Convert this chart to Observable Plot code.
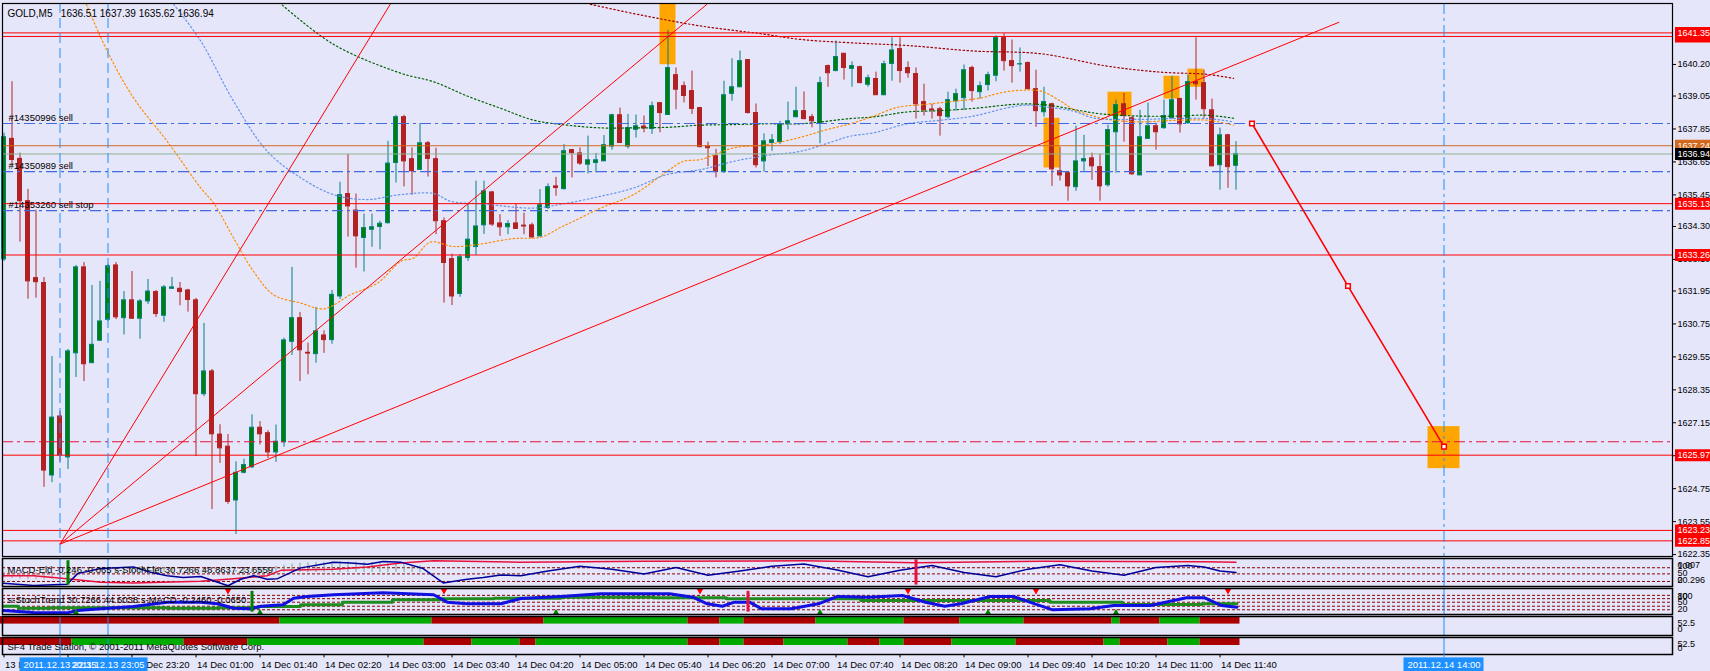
<!DOCTYPE html>
<html><head><meta charset="utf-8">
<script src="https://cdn.jsdelivr.net/npm/d3@7"></script>
<script src="https://cdn.jsdelivr.net/npm/@observablehq/plot@0.6"></script>
<style>
html,body{margin:0;padding:0;background:#E6E6FA;}
#chart{width:1710px;height:671px;display:flex;flex-direction:column;overflow:hidden;background:#E6E6FA;}
#chart svg{display:block;flex:none;}
</style></head><body><div id="chart"></div>
<script>
// ---------- DATA ----------
const symbolName = "GOLD,M5";
const open = [
1633.10,1637.49,1636.76,1635.22,1632.42,1632.24,1625.23,1627.38,1625.89,1629.68,
1632.81,1629.32,1630.14,1630.90,1632.88,1630.96,1631.61,1630.94,1631.57,1631.91,
1631.05,1632.03,1632.03,1631.97,1631.61,1628.19,1629.02,1626.72,1626.28,1624.32,
1625.33,1625.53,1626.97,1626.77,1626.07,1626.44,1630.10,1630.96,1629.70,1629.65,
1630.33,1630.16,1631.75,1635.48,1634.88,1633.88,1634.18,1634.28,1634.42,1636.61,
1638.28,1636.75,1636.36,1637.33,1636.75,1634.49,1633.11,1631.84,1633.15,1633.55,
1634.34,1635.54,1634.41,1634.27,1634.41,1634.33,1634.34,1633.94,1634.97,1635.76,
1635.66,1637.08,1636.96,1636.55,1636.61,1636.67,1637.21,1638.35,1637.21,1637.82,
1637.94,1637.85,1638.79,1638.36,1639.81,1639.41,1639.23,1638.61,1637.21,1636.86,
1636.28,1639.13,1639.37,1640.36,1638.43,1636.67,1637.34,1637.37,1638.04,1638.28,
1638.50,1638.28,1638.05,1640.14,1639.96,1640.59,1640.04,1640.10,1639.46,1639.67,
1639.08,1640.22,1640.76,1640.07,1639.85,1638.83,1638.56,1638.57,1638.28,1638.86,
1638.97,1640.07,1639.19,1639.45,1639.79,1641.16,1640.32,1640.20,1640.25,1639.30,
1638.46,1638.75,1636.31,1636.24,1635.73,1636.67,1636.78,1636.46,1635.80,1637.73,
1638.75,1638.24,1636.16,1637.49,1637.95,1637.88,1638.24,1638.94,1638.06,1639.56,
1639.52,1638.53,1636.53,1637.62,1636.51];
const high = [
1637.70,1639.57,1636.97,1635.65,1634.89,1632.44,1629.56,1627.56,1629.82,1632.88,
1632.99,1632.15,1632.30,1632.92,1632.99,1631.93,1632.66,1631.64,1632.37,1631.97,
1632.15,1632.44,1632.26,1632.01,1631.68,1630.77,1629.09,1627.08,1626.72,1625.73,
1625.83,1627.44,1627.19,1626.86,1627.07,1630.23,1632.81,1631.17,1630.05,1631.35,
1630.50,1631.97,1635.91,1636.92,1635.48,1634.75,1634.75,1634.49,1637.40,1638.35,
1638.35,1637.16,1638.04,1637.40,1637.15,1634.61,1633.29,1633.28,1635.10,1635.95,
1635.95,1635.58,1634.73,1634.51,1635.10,1634.78,1634.42,1635.64,1635.85,1636.09,
1637.28,1637.11,1637.16,1637.59,1636.96,1637.61,1638.39,1638.61,1638.38,1638.36,
1638.32,1638.83,1638.80,1641.44,1640.07,1639.56,1639.96,1638.64,1637.37,1637.11,
1639.59,1640.41,1640.69,1640.38,1638.76,1637.67,1637.65,1638.13,1638.83,1639.37,
1639.20,1638.38,1639.74,1640.18,1641.05,1640.60,1640.29,1640.14,1639.81,1639.92,
1640.32,1641.17,1641.17,1640.29,1640.07,1639.48,1638.75,1638.64,1639.19,1639.30,
1640.18,1640.14,1639.56,1639.92,1641.24,1641.32,1641.09,1640.80,1640.29,1639.99,
1639.37,1638.79,1637.19,1636.31,1637.95,1637.62,1636.97,1636.93,1637.99,1638.90,
1639.15,1638.32,1638.53,1638.79,1638.06,1638.90,1639.77,1638.97,1639.81,1641.17,
1639.99,1638.94,1637.88,1637.66,1637.39];
const low = [
1633.03,1636.49,1633.73,1631.65,1631.69,1624.80,1624.97,1625.73,1625.45,1628.80,
1628.65,1629.31,1630.11,1630.84,1630.91,1630.35,1630.91,1630.19,1631.46,1630.99,
1630.81,1632.01,1631.41,1631.18,1625.92,1628.10,1623.99,1625.67,1624.18,1623.08,
1625.29,1625.48,1626.34,1625.85,1625.71,1626.26,1629.60,1628.65,1628.90,1629.32,
1629.68,1630.01,1631.64,1633.91,1632.78,1632.64,1633.54,1633.45,1634.38,1635.88,
1635.74,1635.44,1636.35,1636.10,1634.00,1631.51,1631.42,1631.72,1633.03,1633.25,
1634.01,1634.30,1633.94,1634.00,1634.19,1634.00,1633.87,1633.90,1634.92,1635.40,
1635.62,1636.07,1636.52,1636.21,1636.25,1636.67,1637.08,1637.33,1637.12,1637.52,
1637.71,1637.65,1637.71,1638.35,1638.55,1638.80,1638.38,1637.16,1636.48,1636.07,
1636.23,1638.86,1639.35,1638.40,1636.43,1636.28,1637.04,1637.28,1637.81,1638.25,
1638.18,1637.89,1637.31,1639.37,1639.93,1639.63,1639.37,1639.50,1639.37,1639.08,
1639.06,1639.59,1639.52,1639.70,1638.21,1638.32,1638.21,1637.59,1638.21,1638.50,
1638.53,1638.83,1638.94,1639.23,1639.57,1639.96,1639.52,1639.92,1639.27,1637.91,
1638.28,1635.76,1635.95,1635.22,1635.58,1636.31,1635.98,1635.22,1635.73,1636.24,
1637.37,1636.16,1636.15,1637.48,1637.08,1637.84,1638.21,1637.70,1638.02,1638.90,
1638.24,1636.47,1635.62,1635.69,1635.62];
const close = [
1637.55,1636.72,1635.22,1632.30,1632.27,1625.41,1627.34,1625.96,1629.75,1632.81,
1629.28,1629.99,1630.84,1632.85,1630.99,1631.61,1630.94,1631.57,1631.93,1631.11,
1632.08,1632.08,1631.91,1631.62,1628.19,1629.02,1626.73,1626.22,1624.27,1625.33,
1625.61,1626.97,1626.73,1626.07,1626.46,1630.15,1630.96,1629.79,1629.67,1630.48,
1630.16,1631.81,1635.44,1635.03,1633.94,1634.24,1634.27,1634.40,1636.59,1638.28,
1636.67,1636.31,1637.33,1636.76,1634.49,1632.97,1631.75,1633.18,1633.82,1634.30,
1635.58,1634.37,1634.27,1634.39,1634.21,1634.30,1633.90,1635.07,1635.73,1635.70,
1637.04,1636.97,1636.59,1636.71,1636.71,1637.26,1638.35,1637.34,1637.88,1637.95,
1637.87,1638.68,1638.43,1640.07,1639.28,1639.05,1638.58,1637.19,1637.15,1636.28,
1639.08,1639.37,1640.32,1638.43,1636.53,1637.40,1637.44,1638.00,1638.13,1638.50,
1638.21,1638.13,1639.52,1639.88,1640.47,1640.07,1640.14,1639.52,1639.70,1639.08,
1640.21,1640.71,1639.96,1639.88,1638.75,1638.53,1638.53,1638.32,1638.90,1639.12,
1639.99,1639.23,1639.41,1639.81,1641.16,1640.32,1640.14,1640.21,1639.30,1638.50,
1638.83,1636.38,1636.16,1635.76,1636.67,1636.75,1636.49,1635.76,1637.81,1638.72,
1638.32,1636.20,1637.55,1637.95,1637.73,1638.32,1638.90,1638.02,1639.56,1639.48,
1638.57,1636.49,1637.62,1636.46,1636.94];

// moving averages (bar index, price)
const maRedBar = [73.3,79.6,87.1,94.6,99.6,105.8,112.9,121.2,129.6,137.9,144.6,150.4,153.7];
const maRedVal = [1642.39,1642.00,1641.60,1641.32,1641.11,1640.99,1640.89,1640.69,1640.59,1640.14,1639.92,1639.84,1639.69];
const maGreenBar = [34.8,41.2,49.6,53.7,57.9,62.1,66.2,70.4,74.6,78.7,82.9,87.1,91.2,95.4,99.6,105.8,108.7,112.9,117.1,121.2,127.1,130.5,133.7,137.1,142.1,146.2,150.4,153.7];
const maGreenVal = [1642.36,1640.93,1639.88,1639.57,1639.05,1638.60,1638.17,1637.99,1637.89,1637.89,1637.91,1637.99,1638.01,1638.04,1638.04,1638.23,1638.29,1638.47,1638.52,1638.60,1638.76,1638.72,1638.56,1638.40,1638.32,1638.32,1638.35,1638.24];
const maOrangeBar = [10.3,12.9,16.2,20.4,24.6,26.2,28.7,31.2,33.7,37.1,40.0,43.3,46.7,49.6,51.2,53.3,56.2,59.6,63.7,67.1,69.6,71.2,74.6,78.7,82.9,84.9,87.1,91.2,95.4,99.6,102.9,105.8,108.7,111.7,115.0,118.7,122.1,124.6,127.1,129.6,132.1,133.7,136.2,138.7,142.1,146.2,150.4,153.7];
const maOrangeVal = [1642.39,1640.69,1638.98,1637.40,1635.70,1635.15,1633.88,1632.66,1631.81,1631.51,1631.30,1631.81,1632.24,1633.03,1633.15,1633.73,1633.57,1633.66,1633.86,1633.91,1634.27,1634.49,1634.97,1635.46,1636.31,1636.67,1636.74,1637.16,1637.28,1637.55,1637.83,1638.04,1638.32,1638.64,1638.74,1638.86,1638.98,1639.17,1639.26,1639.23,1638.86,1638.56,1638.32,1638.17,1638.11,1638.16,1638.17,1637.99];
const maBlueBar = [21.2,24.6,28.7,32.9,37.1,41.2,45.4,49.6,53.7,55.8,59.9,66.2,70.4,74.6,78.7,82.9,87.1,91.2,95.4,99.6,103.7,105.8,108.7,112.9,117.1,121.2,125.4,127.9,130.5,133.7,136.2,142.1,146.2,150.4,153.7];
const maBlueVal = [1642.39,1641.05,1638.86,1637.04,1636.07,1635.46,1635.28,1635.46,1635.50,1635.22,1635.12,1634.97,1635.15,1635.40,1635.70,1636.19,1636.37,1636.67,1636.89,1637.04,1637.40,1637.59,1637.71,1638.04,1638.17,1638.32,1638.62,1638.72,1638.64,1638.50,1638.25,1638.20,1638.23,1638.23,1638.11];

// horizontal levels
const redLevels = [1641.22,1641.35,1635.13,1633.26,1625.97,1623.23,1622.85];
const orderLevels = [1638.05,1636.30,1634.88];
const orderNames = ["#14350996 sell","#14350989 sell","#14353260 sell stop"];
const targetLevel = [1626.46];
const askPrice = [1637.24];
const bidPrice = [1636.94];
const yTicks = [1622.35,1623.55,1624.75,1625.95,1627.15,1628.35,1629.55,1630.75,1631.95,1633.10,1634.30,1635.45,1636.65,1637.85,1639.05,1640.20];

// fan of trend lines from the low
const fanOriginBar = 7, fanOriginPrice = 1622.73;
const fanEndBar = [48.3,87.9,166.9];
const fanEndPrice = [1642.40,1642.40,1641.74];

// projected path
const projBar = [156,168,180];
const projPrice = [1638.05,1632.13,1626.28];

// highlight boxes
const boxBar1 = [82,130,138,145,148,178];
const boxBar2 = [84,132,141,147,150,182];
const boxPrice1 = [1640.19,1636.43,1638.32,1638.94,1639.37,1625.48];
const boxPrice2 = [1642.40,1638.24,1639.19,1639.77,1640.03,1627.01];

// vertical markers
const markerBar = [7,13,180];
const markerLabel = ["2011.12.13 22:35","2011.12.13 23:05","2011.12.14 14:00"];

// time axis
const tickBar = [0,8,16,24,32,40,48,56,64,72,80,88,96,104,112,120,128,136,144,152];
const tickLabel = ["13 Dec 22:00","13 Dec 22:40","13 Dec 23:20","14 Dec 01:00","14 Dec 01:40","14 Dec 02:20","14 Dec 03:00","14 Dec 03:40","14 Dec 04:20","14 Dec 05:00","14 Dec 05:40","14 Dec 06:20","14 Dec 07:00","14 Dec 07:40","14 Dec 08:20","14 Dec 09:00","14 Dec 09:40","14 Dec 10:20","14 Dec 11:00","14 Dec 11:40"];

// sub-window 1 (MACD-Eld / s-StochFlet)
const p1Title = "MACD-Eld -0.246 -0.065 s-StochFlet 30.7266 48.8637 23.6559";
const p1Levels = [67,45,18];
const p1BlueBar = [-0.1,3.7,7.9,9.2,12.1,16.2,18.3,20.4,22.4,24.6,28,29.6,31.2,32.9,34.2,37.1,41.2,43.3,45.4,47.4,49.6,52.4,54.9,57.9,59.9,62.1,64.6,68,72,76,80,84,88,92,96,100,104,108,112,116,120,124,128,132,136,140,144,148,150,152,154];
const p1BlueVal = [11.5,3.8,7.7,46,64,70,51,38.5,32,36,2.7,26,38.5,26,28,66.5,87,83.5,79.6,89.6,87,64,12.7,25.8,32,41.2,38.5,55,72,62,45,68,40,55,72,80,60,35,58,75,50,35,62,78,55,40,68,75,70,55,50];
const p1RedBar = [-0.1,3.7,7.9,12.1,16.2,24.6,28.7,32.9,34.6,41.2,45.4,49.6,53.7,64.6,80,100,114,130,150,154];
const p1RedVal = [38.5,38.5,28,15.4,12.7,19,28,38.5,57.7,61.5,70,83.5,92,87,90,92,85,90,88,87];
const p1HistVal = [30,28,26,25,24,24,25,26,28, 40,42,44,45,46, 58,62,66,70,72,70,68,66, 64,62,60,58,56,55,56,58,60,62,65,68, 72,76,80,83,85,86,87,88,88,88,87,86,85,84,82,80,78,76,74];
const p1SpikeUp = [8], p1SpikeDown = [114];

// sub-window 2 (s-StochTrend / s-MACD)
const p2Title = "s-StochTrend 30.7266 44.6038 s-MACD -0.2460 -0.0650";
const p2Levels = [77,63,48,31,16];
const p2BlueBar = [-0.1,3.7,7.9,9.2,12.1,16.2,20.4,24.6,26.7,28.7,30.8,32.1,34.9,36.2,37.9,41.2,47.4,53.7,55.4,57.9,62.1,64.6,69.6,74.6,83.2,86.1,87.9,89.8,91.3,93.2,94.7,98.4,101.8,104.2,108.1,112.3,115.2,117.6,119.6,123.3,126.2,128.2,131.1,135.8,138.7,143.3,147.8,150.1,152.2,154.1];
const p2BlueVal = [12.8,4.3,3.0,12.8,20,29.8,48.1,48.1,41.3,22.6,20,31.1,37,65.1,72.3,79.6,88.1,79.6,48.1,41.3,41.3,63.8,72.3,83.8,83.8,69.4,41.3,31.1,48.1,48.1,20,20,41.3,72.3,69.4,76.6,48.1,31.1,41.3,72.3,72.3,48.1,15.7,20,34,34,66.8,66.8,34,26.8];
const p2GreenBar = [-0.1,3.7,7.9,16.2,24.6,28.7,34.9,39.2,45.4,51.7,57.9,64.6,74.6,87.9,92.7,103.3,110.9,120.1,127.2,134.3,145.3,154.1];
const p2GreenVal = [31.1,22.6,24.3,24.3,22.6,24.3,29.8,37,48.1,58.3,62.6,65.1,69.4,66.8,62.6,62.6,55.3,55.3,55.3,48.1,38.3,41.3];
const p2SellArrow = [28,55,87,113,129,153];
const p2BuyArrow = [9,32,69,102,123,139];
const p2SpikeUp = [31], p2SpikeDown = [93];

// sub-windows 3 and 4: trend bands (edges, alternating red / green starting red)
const p3Edges = [-0.5,34.5,53.5,67.5,85.5,89.5,92.5,101.5,112.5,119.5,127.5,138.5,139.5,144.5,149.5,154.5];
const p4Edges = [-0.5,8.5,22.5,30.5,52.5,58.5,64.5,66.5,85.5,89.5,92.5,97.5,105.5,109.5,112.5,118.5,126.5,137.5,139.5,145.5,149.5,154.5];
const p4Title = "SF4 Trade Station, \u00a9 2001-2011 MetaQuotes Software Corp.";

// ---------- LAYOUT / STYLE ----------
const FONT = "'Liberation Sans', Arial, sans-serif";
const W = 1710, ML = 2, MR = 38, FS = 9.5, AFS = 9;
const xDomain = [-0.1875, 208.5625];
const barPx = (W - ML - MR) / (xDomain[1] - xDomain[0]);
const xOpt = {domain: xDomain, axis: null};
const style = {fontFamily: FONT, fontSize: FS + "px", background: "transparent", color: "black", overflow: "visible"};
const BULL = "#008000", BULL_EDGE = "#008080", BEAR = "#B22222";
const BAND_RED = "#AA0000", BAND_GREEN = "#00AA00";
const VBLUE = "#1E90FF";
const DOTS = "1.5,2.5";

const bars = open.map((o, i) => ({i, o, h: high[i], l: low[i], c: close[i]}));
const bull = bars.filter(d => d.c >= d.o), bear = bars.filter(d => d.c < d.o);
const tagX1 = xDomain[1] + 3 / barPx, tagX2 = xDomain[1] + 38 / barPx;
const fmt = v => v.toFixed(2);
const titleText = `${symbolName}\u00a0\u00a0 ${fmt(open.at(-1))} ${fmt(high.at(-1))} ${fmt(low.at(-1))} ${fmt(close.at(-1))}`;

// each price tag: coloured box then its text, so a later tag covers an earlier one
function tag(values, color) {
  return values.flatMap(v => [
    Plot.ruleY([v], {y: d => d, x1: tagX1, x2: tagX2, stroke: color, strokeWidth: 12}),
    Plot.text([v], {y: d => d, x: xDomain[1], dx: 5, textAnchor: "start", text: d => fmt(d), fill: "white", fontSize: AFS})
  ]);
}
function bands(edges, yLo) {
  const segs = edges.slice(0, -1).map((e, k) => ({a: e, b: edges[k + 1], g: k % 2 === 1}));
  return Plot.rect(segs, {x1: "a", x2: "b", y1: yLo, y2: 100, fill: d => d.g ? BAND_GREEN : BAND_RED});
}

const chart = document.getElementById("chart");

// ---------- MAIN WINDOW ----------
chart.append(Plot.plot({
  width: W, height: 557, marginTop: 3, marginBottom: 1, marginLeft: ML, marginRight: MR,
  style, x: xOpt, y: {domain: [1622.28, 1642.42], axis: null}, color: {type: "identity"},
  marks: [
    Plot.rect(boxBar1, {x1: boxBar1, x2: boxBar2, y1: boxPrice1, y2: boxPrice2, fill: "#FFA500"}),
    Plot.ruleX(bull, {x: "i", y1: "l", y2: "h", stroke: BULL_EDGE}),
    Plot.ruleX(bear, {x: "i", y1: "l", y2: "h", stroke: BEAR}),
    Plot.rect(bull, {x1: d => d.i - 0.25, x2: d => d.i + 0.25, y1: "o", y2: "c", fill: BULL, stroke: BULL_EDGE}),
    Plot.rect(bear, {x1: d => d.i - 0.25, x2: d => d.i + 0.25, y1: "c", y2: "o", fill: BEAR, stroke: BEAR}),
    Plot.line(maRedBar, {x: maRedBar, y: maRedVal, stroke: "#A00000", strokeDasharray: DOTS, strokeWidth: 1.2, curve: "catmull-rom"}),
    Plot.line(maGreenBar, {x: maGreenBar, y: maGreenVal, stroke: "#006400", strokeDasharray: DOTS, strokeWidth: 1.2, curve: "catmull-rom"}),
    Plot.line(maOrangeBar, {x: maOrangeBar, y: maOrangeVal, stroke: "#FF8C00", strokeDasharray: DOTS, strokeWidth: 1.2, curve: "catmull-rom"}),
    Plot.line(maBlueBar, {x: maBlueBar, y: maBlueVal, stroke: "#6495ED", strokeDasharray: DOTS, strokeWidth: 1.2, curve: "catmull-rom"}),
    Plot.ruleY(redLevels, {y: d => d, stroke: "#FF0000"}),
    Plot.ruleY(orderLevels, {y: d => d, stroke: "#4169E1", strokeDasharray: "11,4,3,4", strokeWidth: 1.2}),
    Plot.ruleY(targetLevel, {y: d => d, stroke: "#E8103C", strokeDasharray: "11,4,3,4", strokeWidth: 1.2}),
    Plot.ruleY(askPrice, {y: d => d, stroke: "#D2691E"}),
    Plot.ruleY(bidPrice, {y: d => d, stroke: "#8FB48F"}),
    Plot.ruleX(markerBar.slice(0, 2), {x: d => d, stroke: VBLUE, strokeDasharray: "10,5"}),
    Plot.ruleX(markerBar.slice(2), {x: d => d, stroke: VBLUE, strokeDasharray: "11,4,3,4"}),
    Plot.link(fanEndBar, {x1: fanOriginBar, y1: fanOriginPrice, x2: fanEndBar, y2: fanEndPrice, stroke: "#FF0000"}),
    Plot.line(projBar, {x: projBar, y: projPrice, stroke: "#FF0000", strokeWidth: 1.6}),
    Plot.dot(projBar, {x: projBar, y: projPrice, symbol: "square", r: 2.6, fill: "white", stroke: "#FF0000", strokeWidth: 1.5}),
    Plot.text([titleText], {frameAnchor: "top-left", dx: 5, dy: 6, text: d => d, fontSize: 10, lineAnchor: "top"}),
    Plot.text(orderLevels, {x: xDomain[0], y: d => d, dx: 6, dy: -6, text: (d, i) => orderNames[i], textAnchor: "start", fontSize: FS}),
    Plot.axisY({anchor: "right", ticks: yTicks, tickSize: 3, tickPadding: 2, tickFormat: fmt, fontSize: AFS, label: null}),
    ...tag(redLevels, "#FF0000"),
    ...tag(askPrice, "#D2691E"),
    ...tag(bidPrice, "#000000"),
    Plot.frame({stroke: "black", strokeWidth: 1.2})
  ]
}));

// ---------- SUB-WINDOW 1 ----------
const histBars = p1HistVal.map((v, i) => i);
chart.append(Plot.plot({
  width: W, height: 30, marginTop: 1, marginBottom: 1, marginLeft: ML, marginRight: MR,
  style, x: xOpt, y: {domain: [0, 100], axis: null},
  marks: [
    Plot.ruleY(p1Levels, {y: d => d, stroke: "#8B0000", strokeDasharray: "3,2"}),
    Plot.ruleX(histBars, {x: d => d, y1: 50, y2: (d, i) => p1HistVal[i], stroke: (d, i) => p1HistVal[i] < 50 ? "#F08080" : "#66B38A"}),
    Plot.ruleX(markerBar, {x: d => d, stroke: VBLUE}),
    Plot.line(p1RedBar, {x: p1RedBar, y: p1RedVal, stroke: "#E8103C"}),
    Plot.line(p1BlueBar, {x: p1BlueBar, y: p1BlueVal, stroke: "#000099"}),
    Plot.ruleX(p1SpikeUp, {x: d => d, y1: 5, y2: 92, stroke: "#008000", strokeWidth: 3}),
    Plot.ruleX(p1SpikeDown, {x: d => d, y1: 5, y2: 95, stroke: "#E8103C", strokeWidth: 3}),
    Plot.text([p1Title], {frameAnchor: "top-left", dx: 5, dy: 11, text: d => d, fontSize: FS, lineAnchor: "middle"}),
    Plot.text(["0.007", "100", "50", "20.296", "0"], {x: xDomain[1], y: [75, 74, 49, 24, 22], dx: 5, text: d => d, textAnchor: "start", fontSize: AFS}),
    Plot.frame({stroke: "black", strokeWidth: 1.5})
  ]
}));

// ---------- SUB-WINDOW 2 ----------
chart.append(Plot.plot({
  width: W, height: 28, marginTop: 1, marginBottom: 1, marginLeft: ML, marginRight: MR,
  style, x: xOpt, y: {domain: [-4, 106], axis: null},
  marks: [
    Plot.ruleY(p2Levels, {y: d => d, stroke: "#8B0000", strokeDasharray: "3,2"}),
    Plot.ruleX(markerBar, {x: d => d, stroke: VBLUE}),
    Plot.line(p2GreenBar, {x: p2GreenBar, y: p2GreenVal, stroke: "#1E8C1E", strokeWidth: 3, curve: "step"}),
    Plot.line(p2BlueBar, {x: p2BlueBar, y: p2BlueVal, stroke: "#1010E0", strokeWidth: 3}),
    Plot.ruleX(p2SpikeUp, {x: d => d, y1: 6, y2: 94, stroke: "#008000", strokeWidth: 3}),
    Plot.ruleX(p2SpikeDown, {x: d => d, y1: 6, y2: 94, stroke: "#E8103C", strokeWidth: 3}),
    Plot.dot(p2SellArrow, {x: d => d, y: 97, symbol: "triangle2", rotate: 180, r: 3.2, fill: "#FF0000"}),
    Plot.dot(p2BuyArrow, {x: d => d, y: 3, symbol: "triangle2", r: 3.2, fill: "#008000"}),
    Plot.text([p2Title], {frameAnchor: "top-left", dx: 5, dy: 11, text: d => d, fontSize: FS, lineAnchor: "middle"}),
    Plot.text(["100", "80", "50", "20"], {x: xDomain[1], y: [74, 73, 48, 17], dx: 5, text: d => d, textAnchor: "start", fontSize: AFS}),
    Plot.frame({stroke: "black", strokeWidth: 1.5})
  ]
}));

// ---------- SUB-WINDOW 3 ----------
chart.append(Plot.plot({
  width: W, height: 21, marginTop: 1, marginBottom: 1, marginLeft: ML, marginRight: MR,
  style, x: xOpt, y: {domain: [0, 100], axis: null},
  marks: [
    bands(p3Edges, 60),
    Plot.ruleX(markerBar, {x: d => d, stroke: VBLUE}),
    Plot.text(["52.5", "0"], {x: xDomain[1], y: [64, 36], dx: 5, text: d => d, textAnchor: "start", fontSize: AFS}),
    Plot.frame({stroke: "black", strokeWidth: 1.5})
  ]
}));

// ---------- SUB-WINDOW 4 ----------
chart.append(Plot.plot({
  width: W, height: 18, marginTop: 1, marginBottom: 0, marginLeft: ML, marginRight: MR,
  style, x: xOpt, y: {domain: [0, 100], axis: null},
  marks: [
    bands(p4Edges, 53),
    Plot.ruleX(markerBar, {x: d => d, stroke: VBLUE}),
    Plot.text([p4Title], {frameAnchor: "top-left", dx: 5, dy: 9, text: d => d, fontSize: FS, lineAnchor: "middle"}),
    Plot.text(["52.5", "0"], {x: xDomain[1], y: [64, 36], dx: 5, text: d => d, textAnchor: "start", fontSize: AFS}),
    Plot.frame({stroke: "black", strokeWidth: 1.5})
  ]
}));

// ---------- TIME AXIS STRIP ----------
chart.append(Plot.plot({
  width: W, height: 17, marginTop: 0, marginBottom: 0, marginLeft: ML, marginRight: MR,
  style, x: xOpt, y: {domain: [0, 1], axis: null},
  marks: [
    Plot.ruleX(tickBar, {x: d => d, y1: 0.8, y2: 1, stroke: "black"}),
    Plot.text(tickBar, {x: d => d, y: 0.36, dx: 1, text: (d, i) => tickLabel[i], textAnchor: "start", fontSize: FS}),
    Plot.ruleX(markerBar, {x: d => d, y1: 0.8, y2: 1, stroke: VBLUE}),
    Plot.rect(markerBar, {x1: d => d - 40 / barPx, x2: d => d + 40 / barPx, y1: 0, y2: 0.8, fill: VBLUE}),
    Plot.text(markerBar, {x: d => d, y: 0.38, text: (d, i) => markerLabel[i], fill: "white", fontSize: FS})
  ]
}));
</script></body></html>
